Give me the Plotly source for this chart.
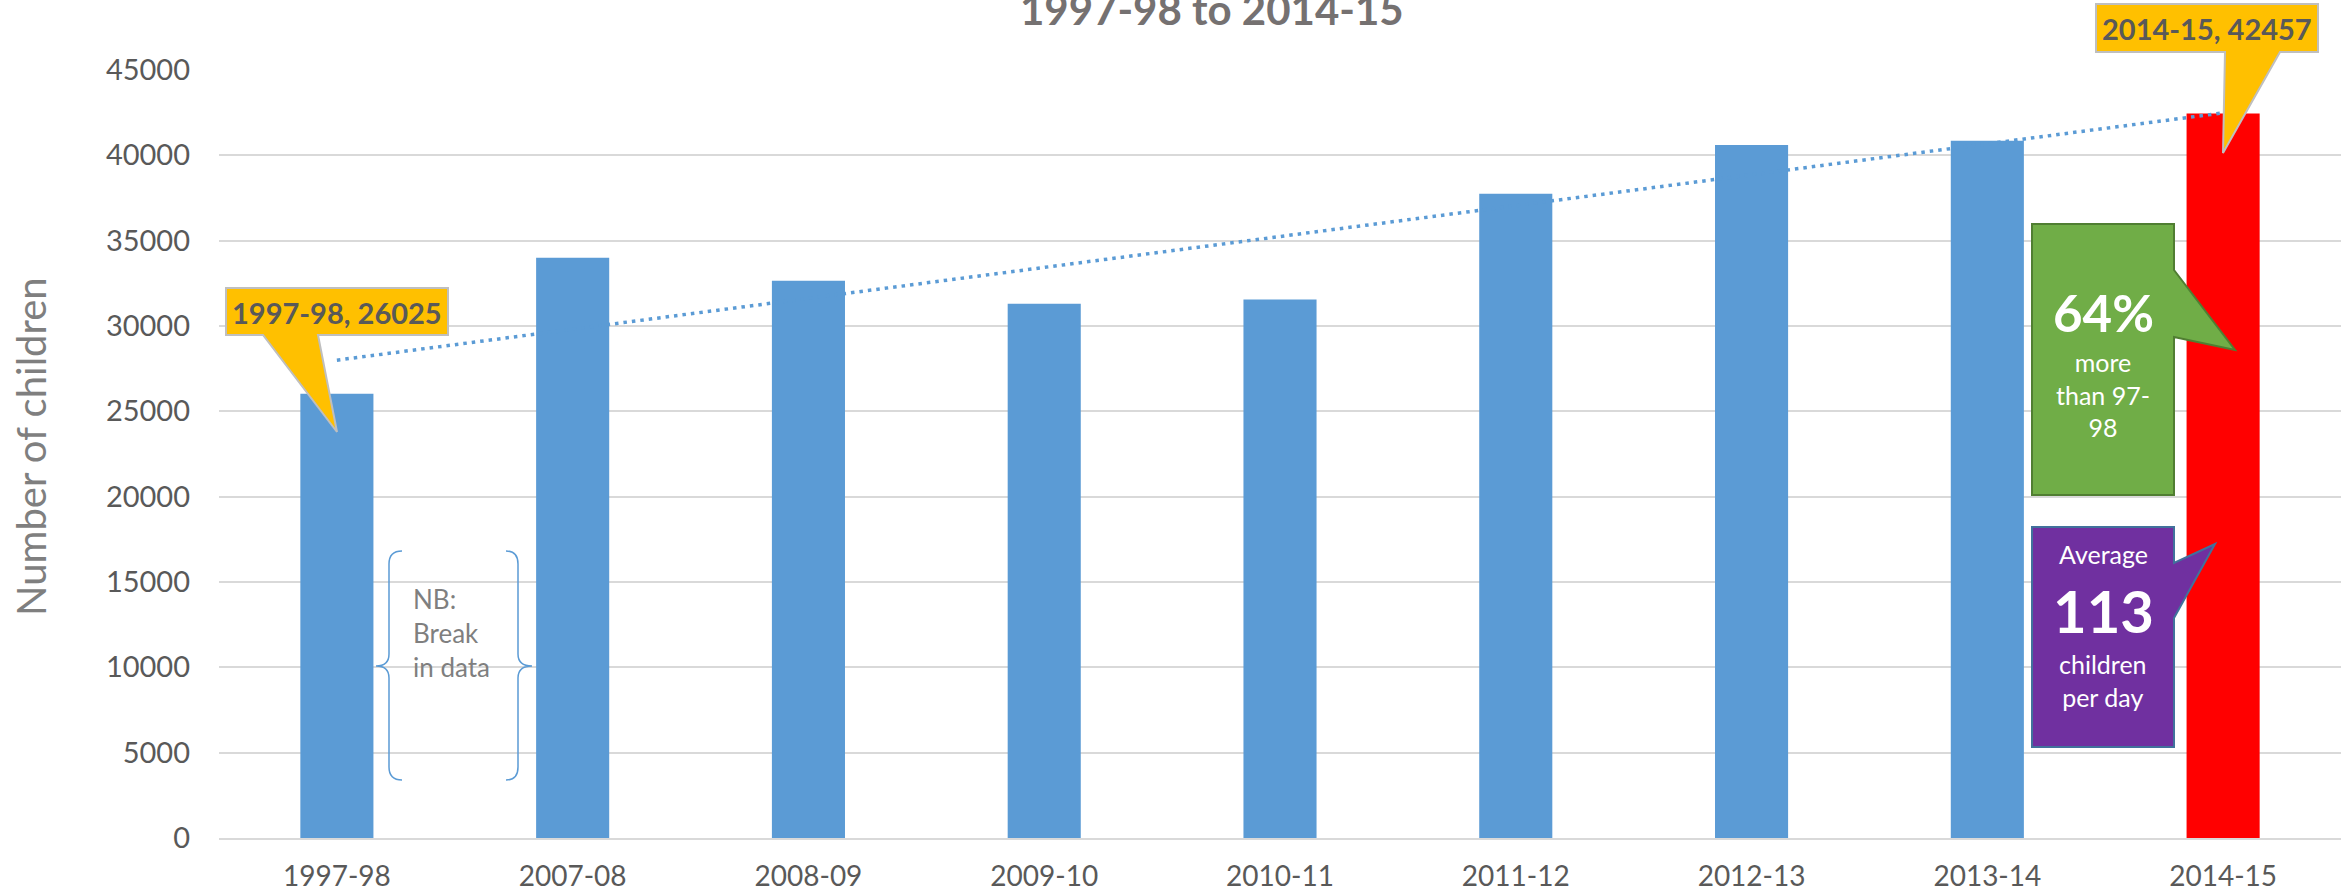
import numpy as np
import plotly.graph_objects as go

# ---- data ----
categories = ["1997-98", "2007-08", "2008-09", "2009-10", "2010-11",
              "2011-12", "2012-13", "2013-14", "2014-15"]
children = [26025, 34000, 32650, 31300, 31550, 37750, 40600, 40860, 42457]
y_ticks = [0, 5000, 10000, 15000, 20000, 25000, 30000, 35000, 40000, 45000]
title_text = "1997-98 to 2014-15"
y_title = "Number of children"
pct_text = "64%"
avg_text = "113"

# ---- layout geometry (pixels) ----
W, H = 2348, 893
ML, MR, MT, MB = 219, 7, 70, 55
PW, PH = W - ML - MR, H - MT - MB


def px(x):
    return (x - ML) / PW


def py(y):
    return (H - MB - y) / PH


def path(points, close=True):
    s = "M " + " L ".join(f"{px(x)},{py(y)}" for x, y in points)
    return s + (" Z" if close else "")


FONT = "Lato"
BLUE = "#5B9BD5"
colors = [BLUE] * (len(categories) - 1) + ["#FF0000"]

# linear trendline (as Excel computes it from the series)
idx = np.arange(1, len(children) + 1)
slope, intercept = np.polyfit(idx, children, 1)
trend = slope * idx + intercept

fig = go.Figure()
fig.add_trace(go.Bar(x=categories, y=children, marker=dict(color=colors, line=dict(width=0)),
                     showlegend=False, hoverinfo="x+y"))
fig.add_trace(go.Scatter(x=categories, y=trend, mode="lines",
                         line=dict(color=BLUE, width=3.5, dash="3.5px,5px"),
                         showlegend=False, hoverinfo="skip"))

shapes = []
annotations = []

# yellow callouts
YEL = "#FFC000"
shapes.append(dict(type="path", xref="paper", yref="paper", layer="above",
                   path=path([(226, 288), (448, 288), (448, 335), (318, 335), (337, 432), (263, 335), (226, 335)]),
                   fillcolor=YEL, line=dict(color="#BFBFBF", width=2)))
annotations.append(dict(xref="paper", yref="paper", x=px(337), y=py(312), xanchor="center", yanchor="middle",
                        text=f"<b>{categories[0]}, {children[0]}</b>", showarrow=False,
                        font=dict(family=FONT, size=29, color="#595959")))
shapes.append(dict(type="path", xref="paper", yref="paper", layer="above",
                   path=path([(2096, 4), (2318, 4), (2318, 52), (2280, 52), (2223, 153), (2225, 52), (2096, 52)]),
                   fillcolor=YEL, line=dict(color="#BFBFBF", width=2)))
annotations.append(dict(xref="paper", yref="paper", x=px(2207), y=py(28), xanchor="center", yanchor="middle",
                        text=f"<b>{categories[-1]}, {children[-1]}</b>", showarrow=False,
                        font=dict(family=FONT, size=29, color="#595959")))

# green callout
shapes.append(dict(type="path", xref="paper", yref="paper", layer="above",
                   path=path([(2032, 224), (2174, 224), (2174, 270), (2235, 350), (2174, 337), (2174, 495), (2032, 495)]),
                   fillcolor="#70AD47", line=dict(color="#507E32", width=2)))
annotations.append(dict(xref="paper", yref="paper", x=px(2103), y=py(312), xanchor="center", yanchor="middle",
                        text=f"<b>{pct_text}</b>", showarrow=False,
                        font=dict(family=FONT, size=51, color="white")))
annotations.append(dict(xref="paper", yref="paper", x=px(2103), y=py(394), xanchor="center", yanchor="middle",
                        text="more<br>than 97-<br>98", showarrow=False, align="center",
                        font=dict(family=FONT, size=25, color="white")))

# purple callout
shapes.append(dict(type="path", xref="paper", yref="paper", layer="above",
                   path=path([(2032, 527), (2174, 527), (2174, 563), (2215, 544), (2174, 618), (2174, 747), (2032, 747)]),
                   fillcolor="#7030A0", line=dict(color="#41719C", width=2)))
annotations.append(dict(xref="paper", yref="paper", x=px(2103), y=py(554), xanchor="center", yanchor="middle",
                        text="Average", showarrow=False,
                        font=dict(family=FONT, size=25, color="white")))
annotations.append(dict(xref="paper", yref="paper", x=px(2103), y=py(610), xanchor="center", yanchor="middle",
                        text=f"<b>{avg_text}</b>", showarrow=False,
                        font=dict(family=FONT, size=58, color="white")))
annotations.append(dict(xref="paper", yref="paper", x=px(2103), y=py(680), xanchor="center", yanchor="middle",
                        text="children<br>per day", showarrow=False, align="center",
                        font=dict(family=FONT, size=25, color="white")))


# braces
def qpath(cmds):
    out = []
    for c in cmds:
        op, pts = c[0], c[1:]
        out.append(op + " " + " ".join(f"{px(x)},{py(y)}" for x, y in pts))
    return " ".join(out)


left_brace = qpath([("M", (402, 551)), ("Q", (389, 551), (389, 564)), ("L", (389, 654)),
                    ("Q", (389, 666), (376, 666)), ("Q", (389, 666), (389, 678)), ("L", (389, 767)),
                    ("Q", (389, 780), (402, 780))])
right_brace = qpath([("M", (506, 551)), ("Q", (518, 551), (518, 564)), ("L", (518, 654)),
                     ("Q", (518, 666), (532, 666)), ("Q", (518, 666), (518, 678)), ("L", (518, 767)),
                     ("Q", (518, 780), (506, 780))])
for p in (left_brace, right_brace):
    shapes.append(dict(type="path", xref="paper", yref="paper", layer="above", path=p,
                       line=dict(color=BLUE, width=1.5)))
annotations.append(dict(xref="paper", yref="paper", x=px(411), y=py(633), xanchor="left", yanchor="middle",
                        text="NB:<br>Break<br>in data", showarrow=False, align="left",
                        font=dict(family=FONT, size=26, color="#7F7F7F")))

# title (second line visible)
annotations.append(dict(xref="paper", yref="paper", x=px(1212), y=py(9), xanchor="center", yanchor="middle",
                        text=f"<b>{title_text}</b>", showarrow=False,
                        font=dict(family=FONT, size=42, color="#757171")))
# y-axis title
annotations.append(dict(xref="paper", yref="paper", x=px(31), y=py(447), xanchor="center", yanchor="middle",
                        text=y_title, textangle=-90, showarrow=False,
                        font=dict(family=FONT, size=40, color="#7F7F7F")))

fig.update_layout(
    width=W, height=H,
    margin=dict(l=ML, r=MR, t=MT, b=MB, pad=0, autoexpand=False),
    paper_bgcolor="white", plot_bgcolor="white",
    bargap=0.69,
    shapes=shapes, annotations=annotations,
    font=dict(family=FONT, color="#595959"),
    xaxis=dict(type="category", showgrid=False, showline=True, linecolor="#D9D9D9", linewidth=2,
               ticks="", tickfont=dict(family=FONT, size=28, color="#595959"), ticklabelstandoff=12,
               automargin=False, fixedrange=True),
    yaxis=dict(range=[0, 45000], tickvals=y_ticks, ticktext=[str(v) for v in y_ticks],
               showgrid=True, gridcolor="#D9D9D9", gridwidth=1.5, zeroline=False, showline=False,
               ticks="", tickfont=dict(family=FONT, size=29, color="#595959"), ticklabelstandoff=28,
               automargin=False, fixedrange=True),
)

fig.write_html("out.html", config={"displayModeBar": False},
               post_script="document.body.style.margin='0px';document.body.style.overflow='hidden';")
